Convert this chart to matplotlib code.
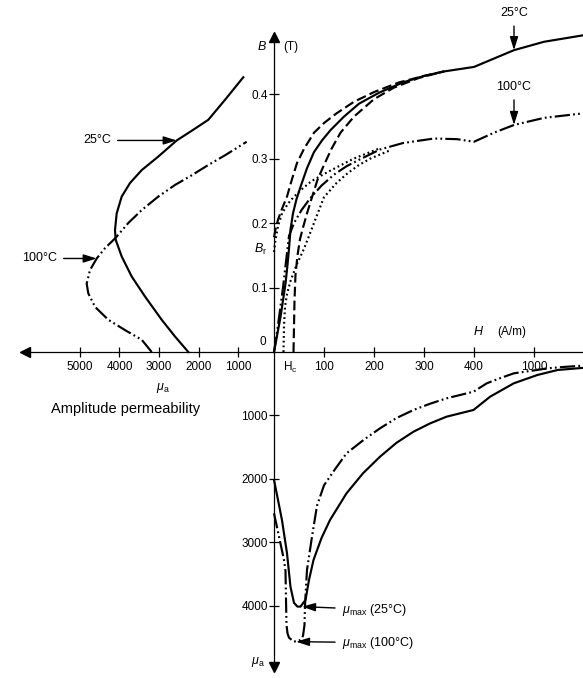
import numpy as np
import matplotlib
matplotlib.use("Agg")
import matplotlib.pyplot as plt

plt.rcParams["font.family"] = ["Liberation Sans", "DejaVu Sans"]
plt.rcParams["mathtext.fontset"] = "custom"
plt.rcParams["mathtext.rm"] = "Liberation Sans"
plt.rcParams["mathtext.it"] = "Liberation Sans:italic"
plt.rcParams["lines.scale_dashes"] = False

# --- B-H curves (H in A/m, B in T) ---
h_init_25 = [0, 6, 13, 18, 23, 27, 30, 33, 38, 45, 53, 66, 80, 96, 113, 140, 170, 210, 258, 300, 340, 400, 600, 800, 1100, 1490]
b_init_25 = [0, .025, .054, .08, .106, .135, .16, .19, .215, .237, .256, .285, .31, .328, .344, .365, .385, .402, .418, .428, .435, .442, .455, .468, .481, .491]

h_desc_25 = [0, 3, 8, 16, 26, 36, 46, 60, 80, 100, 125, 160, 200, 250, 300, 340]
b_desc_25 = [.178, .19, .205, .222, .241, .268, .293, .315, .34, .355, .37, .388, .403, .418, .428, .435]

h_asc_25 = [39, 40, 41, 43, 47, 52, 57, 66, 76, 87, 100, 115, 133, 160, 200, 240, 290, 340]
b_asc_25 = [0, .04, .08, .12, .15, .175, .19, .215, .24, .267, .29, .315, .34, .365, .392, .41, .425, .435]

h_init_100 = [0, 6, 12, 18, 24, 30, 40, 55, 72, 95, 120, 145, 170, 212, 258, 320, 366, 400, 600, 800, 1100, 1490]
b_init_100 = [0, .03, .065, .1, .14, .18, .2, .22, .238, .258, .275, .288, .298, .314, .324, .331, .33, .326, .34, .352, .363, .37]

h_desc_100 = [0, 3, 8, 16, 28, 39, 55, 75, 100, 127, 160, 212]
b_desc_100 = [.155, .174, .195, .215, .23, .24, .252, .265, .276, .287, .3, .316]

h_asc_100 = [19, 20, 22, 26, 33, 45, 60, 80, 100, 125, 147, 170, 193, 230]
b_asc_100 = [0, .04, .07, .09, .11, .135, .16, .2, .24, .262, .277, .29, .30, .312]

# --- amplitude permeability vs B ---
b_mu_25 = [0, .024, .05, .086, .117, .148, .174, .189, .215, .241, .262, .282, .303, .328, .343, .36, .391, .423, .426]
mu_b_25 = [2258, 2595, 2932, 3354, 3691, 3944, 4096, 4114, 4071, 3944, 3734, 3438, 3018, 2552, 2172, 1752, 1329, 906, 866]

b_mu_100 = [0, .019, .034, .05, .07, .091, .106, .127, .145, .161, .176, .2, .22, .241, .259, .274, .29, .305, .326]
mu_b_100 = [3185, 3438, 3861, 4284, 4620, 4790, 4831, 4747, 4577, 4367, 4114, 3777, 3438, 3018, 2595, 2172, 1752, 1329, 780]

# --- amplitude permeability vs H ---
h_mu_25 = [0, 8, 16, 26, 33, 40, 47, 53, 63, 70, 79, 95, 112, 145, 178, 212, 245, 279, 312, 345, 399, 562, 798, 1034, 1237, 1490]
mu_h_25 = [2015, 2330, 2650, 3170, 3700, 3950, 4010, 4010, 3905, 3590, 3276, 2930, 2646, 2226, 1910, 1649, 1430, 1255, 1125, 1019, 913, 703, 493, 362, 283, 250]

h_mu_100 = [0, 10, 20, 23, 24, 25, 27, 30, 40, 53, 58, 61, 62, 64, 66, 76, 86, 100, 119, 145, 180, 212, 245, 279, 312, 345, 399, 528, 665, 798, 1000, 1136, 1300, 1490]
mu_h_100 = [2540, 2908, 3276, 3450, 3900, 4300, 4430, 4500, 4562, 4535, 4470, 4300, 4000, 3700, 3430, 2908, 2420, 2100, 1880, 1596, 1380, 1202, 1040, 913, 815, 730, 625, 493, 410, 336, 290, 257, 235, 215]

# axis ticks
b_ticks = [0.1, 0.2, 0.3, 0.4]
b_tick_labels = ["0.1", "0.2", "0.3", "0.4"]
h_ticks = [100, 200, 300, 400, 1000]
h_tick_labels = ["100", "200", "300", "400", "1000"]
mu_ticks_left = [1000, 2000, 3000, 4000, 5000]
mu_ticks_down = [1000, 2000, 3000, 4000]

W, HGT = 583, 678
fig = plt.figure(figsize=(W / 100, HGT / 100), dpi=100)


def rect(x0, y0, x1, y1):
    return [x0 / W, 1 - y1 / HGT, (x1 - x0) / W, (y1 - y0) / HGT]


def ftext(x, y, s, **kw):
    fig.text(x / W, 1 - y / HGT, s, **kw)


# H axis is linear up to 400 A/m, compressed above
K = 0.2


def fwd(h):
    h = np.asarray(h, float)
    return np.where(h <= 400, h, 400 + (h - 400) * K)


def inv(u):
    u = np.asarray(u, float)
    return np.where(u <= 400, u, 400 + (u - 400) / K)


ax_bh = fig.add_axes(rect(274, 37, 583, 352))
ax_mb = fig.add_axes(rect(25, 37, 274, 352))
ax_mh = fig.add_axes(rect(274, 352, 583, 667))

for ax in (ax_bh, ax_mb, ax_mh):
    ax.patch.set_visible(False)
    for s in ax.spines.values():
        s.set_visible(False)
        s.set_linewidth(0.9)

H_MAX = 1490
ax_bh.set_xscale("function", functions=(fwd, inv))
ax_bh.set_xlim(0, H_MAX)
ax_bh.set_ylim(0, 0.4884)
ax_mb.set_xlim(6392, 89)
ax_mb.set_ylim(0, 0.4884)
ax_mh.set_xscale("function", functions=(fwd, inv))
ax_mh.set_xlim(0, H_MAX)
ax_mh.set_ylim(4961, 0)

lw = 1.55
solid = dict(color="k", lw=lw, clip_on=False)
dashed = dict(color="k", lw=lw, dashes=(7, 3), clip_on=False)
ddot = dict(color="k", lw=lw, dashes=(11, 2.3, 1.3, 2.3, 1.3, 2.3), clip_on=False)
dotted = dict(color="k", lw=lw, dashes=(1.3, 2.1), clip_on=False)

# B-H
ax_bh.plot(h_init_25, b_init_25, **solid)
ax_bh.plot(h_desc_25, b_desc_25, **dashed)
ax_bh.plot(h_asc_25, b_asc_25, **dashed)
ax_bh.plot(h_init_100, b_init_100, **ddot)
ax_bh.plot(h_desc_100, b_desc_100, **dotted)
ax_bh.plot(h_asc_100, b_asc_100, **dotted)

# mu_a - B
ax_mb.plot(mu_b_25, b_mu_25, **solid)
ax_mb.plot(mu_b_100, b_mu_100, **ddot)

# mu_a - H
ax_mh.plot(h_mu_25, mu_h_25, **solid)
ax_mh.plot(h_mu_100, mu_h_100, **ddot)

# axes lines and ticks
ax_bh.spines["left"].set_visible(True)
ax_bh.spines["bottom"].set_visible(True)
ax_bh.set_yticks(b_ticks)
ax_bh.set_yticklabels(b_tick_labels)
ax_bh.set_xticks(h_ticks)
ax_bh.set_xticklabels(h_tick_labels)
ax_bh.xaxis.set_minor_locator(plt.NullLocator())
ax_bh.tick_params(axis="y", direction="inout", length=7, width=0.9, labelsize=8.5, pad=1)
ax_bh.tick_params(axis="x", direction="inout", length=7, width=0.9, labelsize=8.5, pad=3)

ax_mb.spines["bottom"].set_visible(True)
ax_mb.set_xticks(mu_ticks_left)
ax_mb.set_xticklabels([str(v) for v in mu_ticks_left])
ax_mb.set_yticks([])
ax_mb.tick_params(axis="x", direction="inout", length=7, width=0.9, labelsize=8.5, pad=3)

ax_mh.spines["left"].set_visible(True)
ax_mh.set_yticks(mu_ticks_down)
ax_mh.set_yticklabels([str(v) for v in mu_ticks_down])
ax_mh.set_xticks([])
ax_mh.xaxis.set_minor_locator(plt.NullLocator())
ax_mh.tick_params(axis="y", direction="inout", length=7, width=0.9, labelsize=8.5, pad=1)

# arrow heads on the axes
ax_bh.plot(0, 1, "^k", ms=6.5, transform=ax_bh.transAxes, clip_on=False)
ax_mb.plot(0, 0, "<k", ms=6.5, transform=ax_mb.transAxes, clip_on=False)
ax_mh.plot(0, 0, "vk", ms=6.5, transform=ax_mh.transAxes, clip_on=False)

# axis captions
ftext(262, 47, "B", style="italic", fontsize=9, ha="center", va="center")
ftext(283, 47, "(T)", fontsize=8.5, ha="left", va="center")
ftext(263, 342, "0", fontsize=8.5, ha="center", va="center")
ftext(261, 249, r"$B_{\rm r}$", fontsize=9, ha="center", va="center")
ftext(290, 367, r"H$_{\rm c}$", fontsize=8.5, ha="center", va="center")
ftext(478, 332, "H", style="italic", fontsize=9, ha="center", va="center")
ftext(497, 332, "(A/m)", fontsize=8.5, ha="left", va="center")
ftext(163, 388, r"$\mu_{\rm a}$", fontsize=9, ha="center", va="center")
ftext(126, 409, "Amplitude permeability", fontsize=10.5, ha="center", va="center")
ftext(265, 662, r"$\mu_{\rm a}$", fontsize=9, ha="right", va="center")

arrow = dict(arrowstyle="-|>,head_length=0.8,head_width=0.25", color="k", lw=1.0,
             mutation_scale=10, shrinkA=3, shrinkB=0)

ax_mb.annotate("25°C", xy=(2552, 0.328), xytext=(-66, 0), textcoords="offset pixels",
               ha="right", va="center", fontsize=9, arrowprops=arrow)
ax_mb.annotate("100°C", xy=(4577, 0.145), xytext=(-40, 0), textcoords="offset pixels",
               ha="right", va="center", fontsize=9, arrowprops=arrow)
ax_bh.annotate("25°C", xy=(800, 0.468), xytext=(0, 37), textcoords="offset pixels",
               ha="center", va="center", fontsize=9, arrowprops=arrow, annotation_clip=False)
ax_bh.annotate("100°C", xy=(800, 0.352), xytext=(0, 38), textcoords="offset pixels",
               ha="center", va="center", fontsize=9, arrowprops=arrow)
ax_mh.annotate(r"$\mu_{\rm max}$ (25°C)", xy=(56, 4010), xytext=(40, -3), textcoords="offset pixels",
               ha="left", va="center", fontsize=9, arrowprops=arrow)
ax_mh.annotate(r"$\mu_{\rm max}$ (100°C)", xy=(44, 4562), xytext=(46, -1), textcoords="offset pixels",
               ha="left", va="center", fontsize=9, arrowprops=arrow)

fig.savefig("out.png", dpi=100)
